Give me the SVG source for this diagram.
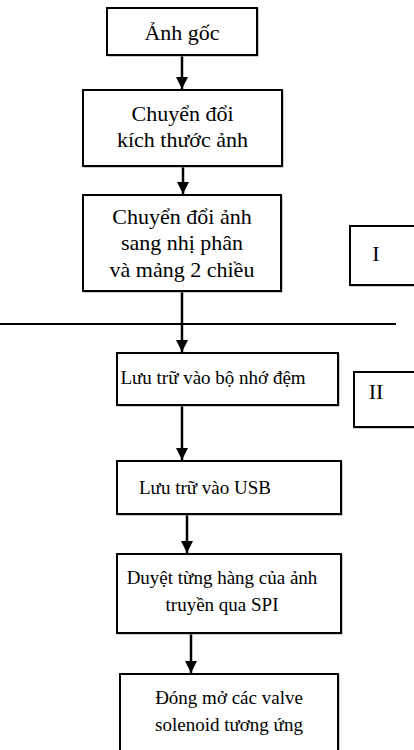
<svg xmlns="http://www.w3.org/2000/svg" width="414" height="750" viewBox="0 0 414 750">
<style>
.box{fill:#fff;stroke:#000;stroke-width:2}
.sh{fill:none;stroke:#999;stroke-width:1}
.t{font-family:"Liberation Serif","Times New Roman",serif;fill:#000;text-anchor:middle}
.big{font-size:22px}
.sm{font-size:19px}
.ln{stroke:#000;stroke-width:2.5;fill:none}
</style>
<defs>
<marker id="ah" viewBox="0 0 10 10" refX="10" refY="5" markerWidth="5" markerHeight="5.5" orient="auto" markerUnits="strokeWidth">
<path d="M0,0 L10,5 L0,10 Z" fill="#000"/>
</marker>
</defs>
<rect width="414" height="750" fill="#fff"/>
<g id="connectors">
<line class="ln" x1="182" y1="55" x2="182" y2="89" marker-end="url(#ah)"/>
<line class="ln" x1="183" y1="166" x2="183" y2="194" marker-end="url(#ah)"/>
<line class="ln" x1="182" y1="291" x2="182" y2="352" marker-end="url(#ah)"/>
<line class="ln" x1="182" y1="405" x2="182" y2="460" marker-end="url(#ah)"/>
<line class="ln" x1="187" y1="514" x2="187" y2="553" marker-end="url(#ah)"/>
<line class="ln" x1="191" y1="633" x2="191" y2="673" marker-end="url(#ah)"/>
<line x1="0" y1="324" x2="396" y2="324" stroke="#000" stroke-width="2"/>
</g>
<g id="n1">
<rect class="sh" x="108" y="9" width="150" height="47"/>
<rect class="box" x="107" y="8" width="150" height="47"/>
<text class="t big" x="182" y="40">Ảnh gốc</text>
</g>
<g id="n2">
<rect class="sh" x="84" y="91" width="199" height="76"/>
<rect class="box" x="83" y="90" width="199" height="76"/>
<text class="t big" x="182.5" y="121">Chuyển đổi</text>
<text class="t big" x="182.5" y="147">kích thước ảnh</text>
</g>
<g id="n3">
<rect class="sh" x="84" y="196" width="198" height="96"/>
<rect class="box" x="83" y="195" width="198" height="96"/>
<text class="t big" x="182" y="224">Chuyển đổi ảnh</text>
<text class="t big" x="182" y="250">sang nhị phân</text>
<text class="t big" x="182" y="277">và mảng 2 chiều</text>
</g>
<g id="nI">
<rect class="sh" x="351" y="227" width="70" height="59"/>
<rect class="box" x="350" y="226" width="70" height="59"/>
<text class="t big" x="376" y="261">I</text>
</g>
<g id="n4">
<rect class="sh" x="118" y="354" width="221" height="52"/>
<rect class="box" x="117" y="353" width="221" height="52"/>
<text class="t sm" x="213" y="384">Lưu trữ vào bộ nhớ đệm</text>
</g>
<g id="nII">
<rect class="sh" x="355" y="373" width="70" height="55"/>
<rect class="box" x="354" y="372" width="70" height="55"/>
<text class="t big" x="376" y="399">II</text>
</g>
<g id="n5">
<rect class="sh" x="118" y="462" width="224" height="53"/>
<rect class="box" x="117" y="461" width="224" height="53"/>
<text class="t sm" x="205" y="494">Lưu trữ vào USB</text>
</g>
<g id="n6">
<rect class="sh" x="118" y="555" width="224" height="79"/>
<rect class="box" x="117" y="554" width="224" height="79"/>
<text class="t sm" x="222" y="584">Duyệt từng hàng của ảnh</text>
<text class="t sm" x="222" y="611">truyền qua SPI</text>
</g>
<g id="n7">
<rect class="sh" x="121" y="675" width="218" height="90"/>
<rect class="box" x="120" y="674" width="218" height="90"/>
<text class="t sm" x="229" y="704">Đóng mở các valve</text>
<text class="t sm" x="229" y="731">solenoid tương ứng</text>
</g>
</svg>
